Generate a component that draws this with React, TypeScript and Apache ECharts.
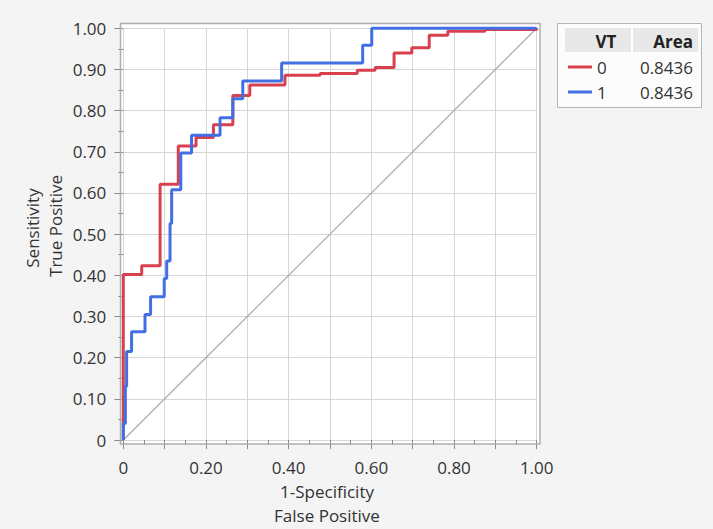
import React, { useEffect, useRef } from 'react';
import * as echarts from 'echarts';

// ROC curve for VT = 0 (vertex points: x of each vertical step, tpr at its top)
const fpr0 = [0, 0, 0.0445, 0.089, 0.133, 0.176, 0.218, 0.265, 0.306, 0.391, 0.476, 0.566, 0.609, 0.655, 0.698, 0.74, 0.785, 0.875, 1];
const tpr0 = [0, 0.402, 0.423, 0.621, 0.714, 0.735, 0.766, 0.837, 0.862, 0.886, 0.89, 0.898, 0.905, 0.94, 0.953, 0.983, 0.993, 0.997, 1];

// ROC curve for VT = 1
const fpr1 = [0, 0, 0.005, 0.008, 0.02, 0.0525, 0.066, 0.099, 0.105, 0.113, 0.117, 0.139, 0.165, 0.234, 0.265, 0.289, 0.383, 0.579, 0.601, 1];
const tpr1 = [0, 0.04, 0.13, 0.215, 0.263, 0.305, 0.348, 0.392, 0.435, 0.526, 0.608, 0.697, 0.74, 0.783, 0.829, 0.872, 0.916, 0.959, 1, 1];

const diagX = [0, 1];
const diagY = [0, 1];

const groups = ['0', '1'];
const areas = ['0.8436', '0.8436'];
const colors = ['#d9404e', '#4270e4'];

const legendTitle = 'VT';
const legendAreaTitle = 'Area';
const xTitle = ['1-Specificity', 'False Positive'];
const yTitle = ['Sensitivity', 'True Positive'];

const FONT = "'Open Sans', 'Noto Sans', sans-serif";
const TEXT = '#333333';
const FS = 17;

const fmtTick = (v: number) => {
  const r = Math.round(v * 100) / 100;
  return r === 0 ? '0' : r.toFixed(2);
};

export default function App() {
  const ref = useRef<HTMLDivElement>(null);
  useEffect(() => {
    if (!ref.current) return;
    const chart = echarts.init(ref.current, null, { renderer: 'svg' });
    const legendTexts: any[] = [];
    groups.forEach((g, i) => {
      const y = 67 + i * 25;
      legendTexts.push(
        { type: 'line', shape: { x1: 568, y1: y, x2: 592, y2: y }, style: { stroke: colors[i], lineWidth: 3 } },
        { type: 'text', x: 597, y, style: { text: g, fontSize: FS, fontFamily: FONT, fill: TEXT, align: 'left', verticalAlign: 'middle', textAlign: 'left', textVerticalAlign: 'middle' } },
        { type: 'text', x: 693, y, style: { text: areas[i], fontSize: FS, fontFamily: FONT, fill: TEXT, align: 'right', verticalAlign: 'middle', textAlign: 'right', textVerticalAlign: 'middle' } }
      );
    });
    const option: any = {
      animation: false,
      backgroundColor: '#f4f4f4',
      grid: { left: 123.3, right: 176.3, top: 28.3, bottom: 89, outerBoundsMode: 'none', containLabel: false },
      xAxis: {
        type: 'value', min: 0, max: 1, interval: 0.1, offset: 4,
        axisLine: { show: false },
        axisTick: { show: true, length: 9, lineStyle: { color: '#8a8a8a' } },
        minorTick: { show: true, splitNumber: 2, length: 5, lineStyle: { color: '#8a8a8a' } },
        splitLine: { show: true, lineStyle: { color: '#d6d6d6', width: 1 } },
        axisLabel: {
          margin: 15, fontSize: FS, fontFamily: FONT, color: TEXT,
          formatter: (v: number) => (Math.round(v * 10) % 2 === 0 ? fmtTick(v) : ''),
        },
      },
      yAxis: {
        type: 'value', min: 0, max: 1, interval: 0.1, offset: 3,
        axisLine: { show: false },
        axisTick: { show: true, length: 9, lineStyle: { color: '#8a8a8a' } },
        minorTick: { show: true, splitNumber: 2, length: 5, lineStyle: { color: '#8a8a8a' } },
        splitLine: { show: true, lineStyle: { color: '#d6d6d6', width: 1 } },
        axisLabel: { margin: 14, fontSize: FS, fontFamily: FONT, color: TEXT, formatter: (v: number) => fmtTick(v) },
      },
      series: [
        {
          type: 'line', data: diagX.map((x, i) => [x, diagY[i]]), showSymbol: false, clip: false,
          lineStyle: { color: '#ababab', width: 1.2 }, z: 2,
        },
        {
          type: 'line', name: groups[0], step: 'end', data: fpr0.map((x, i) => [x, tpr0[i]]), showSymbol: false, clip: false,
          lineStyle: { color: colors[0], width: 3 }, z: 3,
        },
        {
          type: 'line', name: groups[1], step: 'end', data: fpr1.map((x, i) => [x, tpr1[i]]), showSymbol: false, clip: false,
          lineStyle: { color: colors[1], width: 3 }, z: 4,
        },
      ],
      graphic: [
        { type: 'rect', z: -10, shape: { x: 120.5, y: 23.5, width: 419.5, height: 420.5 }, style: { fill: '#ffffff' } },
        { type: 'rect', z: 100, shape: { x: 120.5, y: 23.5, width: 419.5, height: 420.5 }, style: { fill: 'none', stroke: '#aeaeae', lineWidth: 1.5 } },
        { type: 'rect', shape: { x: 557.5, y: 23.5, width: 144, height: 84 }, style: { fill: '#fcfcfc', stroke: '#b4b4b4', lineWidth: 1 } },
        { type: 'rect', shape: { x: 565, y: 28, width: 133, height: 24 }, style: { fill: '#e8e8e8' } },
        { type: 'line', shape: { x1: 632, y1: 28, x2: 632, y2: 52 }, style: { stroke: '#ffffff', lineWidth: 2 } },
        { type: 'text', x: 606, y: 41, style: { text: legendTitle, fontSize: FS, fontWeight: 'bold', fontFamily: FONT, fill: '#222', align: 'center', verticalAlign: 'middle', textAlign: 'center', textVerticalAlign: 'middle' } },
        { type: 'text', x: 693, y: 41, style: { text: legendAreaTitle, fontSize: FS, fontWeight: 'bold', fontFamily: FONT, fill: '#222', align: 'right', verticalAlign: 'middle', textAlign: 'right', textVerticalAlign: 'middle' } },
        ...legendTexts,
        { type: 'text', x: 327, y: 491, style: { text: xTitle[0], fontSize: FS, fontFamily: FONT, fill: TEXT, align: 'center', verticalAlign: 'middle', textAlign: 'center', textVerticalAlign: 'middle' } },
        { type: 'text', x: 327, y: 515, style: { text: xTitle[1], fontSize: FS, fontFamily: FONT, fill: TEXT, align: 'center', verticalAlign: 'middle', textAlign: 'center', textVerticalAlign: 'middle' } },
        { type: 'text', x: 32, y: 228, rotation: Math.PI / 2, style: { text: yTitle[0], fontSize: FS, fontFamily: FONT, fill: TEXT, align: 'center', verticalAlign: 'middle', textAlign: 'center', textVerticalAlign: 'middle' } },
        { type: 'text', x: 55, y: 226, rotation: Math.PI / 2, style: { text: yTitle[1], fontSize: FS, fontFamily: FONT, fill: TEXT, align: 'center', verticalAlign: 'middle', textAlign: 'center', textVerticalAlign: 'middle' } },
      ],
    };
    chart.setOption(option);
    return () => chart.dispose();
  }, []);
  return <div ref={ref} style={{ position: 'fixed', left: 0, top: 0, width: 713, height: 529 }} />;
}
